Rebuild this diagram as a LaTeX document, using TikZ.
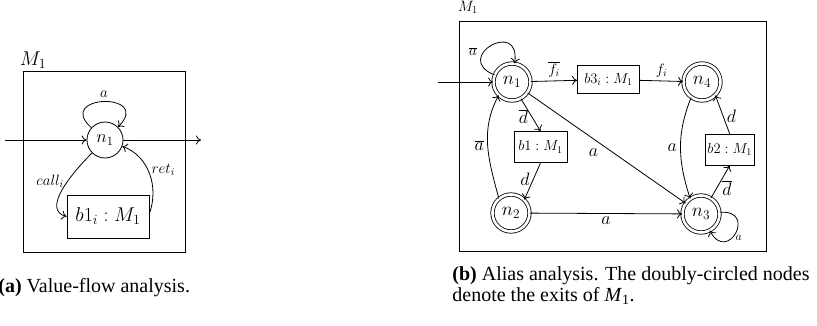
\RequirePackage{fix-cm}
\documentclass[tikz,border=0pt]{standalone}
\usepackage{fontspec}
\usetikzlibrary{arrows.meta}
\newfontfamily\capfont{Liberation Serif}
\newcommand{\fs}[1]{\fontsize{#1}{#1}\selectfont}
\begin{document}
\begin{tikzpicture}[x=1pt,y=1pt,
  >={Computer Modern Rightarrow[length=5pt,width=9pt]},
  every path/.style={line width=0.8pt},
  st/.style={circle,draw,minimum size=36pt,inner sep=0pt,font=\fs{18}},
  dst/.style={circle,draw,double,double distance=2.6pt,minimum size=37pt,inner sep=0pt,font=\fs{19}},
  boxL/.style={rectangle,draw,minimum width=82pt,minimum height=43pt,inner sep=0pt,font=\fs{20}},
  boxR/.style={rectangle,draw,inner sep=0pt,minimum height=30pt,font=\fs{14.5}},
  lblL/.style={font=\fs{15}},
  lblR/.style={font=\fs{18}},
  lblS/.style={font=\fs{15}},
  frame/.style={draw,line width=0.9pt},
  captxt/.style={inner sep=0pt,font=\capfont\fs{20}}
]
\useasboundingbox (0,0) rectangle (817,325);
% ---------- (a) ----------
\draw[frame] (23,73) rectangle (185,254);
\node[font=\fs{20}] (ML) at (33,265) {$M_1$};
\node[st] (n1L) at (105,185) {$n_1$};
\node[boxL] (b1i) at (108,108.5) {$b1_i : M_1$};
\coordinate (inL) at (5,185);
\coordinate (outL) at (201,185);
\draw[->] (inL) -- (n1L);
\draw[->] (n1L) -- (outL);
\draw[->] (n1L) to[out=138,in=45,distance=50pt] node[lblL,above]{$a$} (n1L);
\draw[->] (n1L) to[out=225,in=165] node[lblL,left,pos=0.4]{$call_i$} (b1i.west);
\draw[->] ([yshift=3pt]b1i.east) to[out=70,in=-20] node[lblL,right,pos=0.55]{$ret_i$} (n1L);
\node[captxt,anchor=base west] (capA) at (-2,33) {\textbf{(a)} Value-flow analysis.};
% ---------- (b) ----------
\draw[frame] (459,74) rectangle (766,304);
\node[font=\fs{15}] (MR) at (468,318) {$M_1$};
\node[dst] (n1) at (512,243) {$n_1$};
\node[dst] (n4) at (702,243) {$n_4$};
\node[dst] (n2) at (511,112) {$n_2$};
\node[dst] (n3) at (701,111) {$n_3$};
\node[boxR,minimum width=62pt,minimum height=28pt] (b3) at (608.5,245.5) {$b3_i : M_1$};
\node[boxR,minimum width=53pt,minimum height=31pt] (b1) at (540.5,178) {$b1 : M_1$};
\node[boxR,minimum width=49pt,minimum height=31pt] (b2) at (729.7,175.3) {$b2 : M_1$};
\coordinate (inR) at (438,243);
\draw[->] (inR) -- (n1);
\draw[->] (n1) to[out=158,in=82,distance=46pt] node[lblS,above left,pos=0.25]{$\overline{a}$} (n1);
\draw[->] (n1) -- node[lblS,above]{$\overline{f_i}$} (b3);
\draw[->] (b3) -- node[lblS,above]{$f_i$} (n4);
\draw[->] (n1.-62) -- node[lblR,left,pos=0.55]{$\overline{d}$} (b1.north);
\draw[->] (b1.south) -- node[lblR,left,pos=0.45]{$d$} (n2.north east);
\draw[->] (n2.130) to[out=105,in=-118] node[lblR,left,pos=0.5]{$\overline{a}$} (n1.-135);
\draw[->] (n1) -- node[lblR,below left,pos=0.47]{$a$} (n3);
\draw[->] (n2) -- node[lblR,below,pos=0.5]{$a$} (n3);
\draw[->] (n4.-125) to[out=-112,in=108] node[lblR,left,pos=0.5]{$a$} (n3.125);
\draw[->] (n3.58) -- node[lblR,right=2pt,pos=0.3]{$\overline{d}$} (b2.south);
\draw[->] (b2.north) -- node[lblR,right,pos=0.45]{$d$} (n4.-45);
\draw[->] (n3) to[out=5,in=-62,distance=38pt] node[font=\fs{12},right,pos=0.6]{$a$} (n3);
\node[captxt,anchor=base west] (capB1) at (452,45) {\textbf{(b)} Alias analysis. The doubly-circled nodes};
\node[captxt,anchor=base west] (capB2) at (452,24) {denote the exits of \textit{M}\textsubscript{1}.};
\end{tikzpicture}
\end{document}
